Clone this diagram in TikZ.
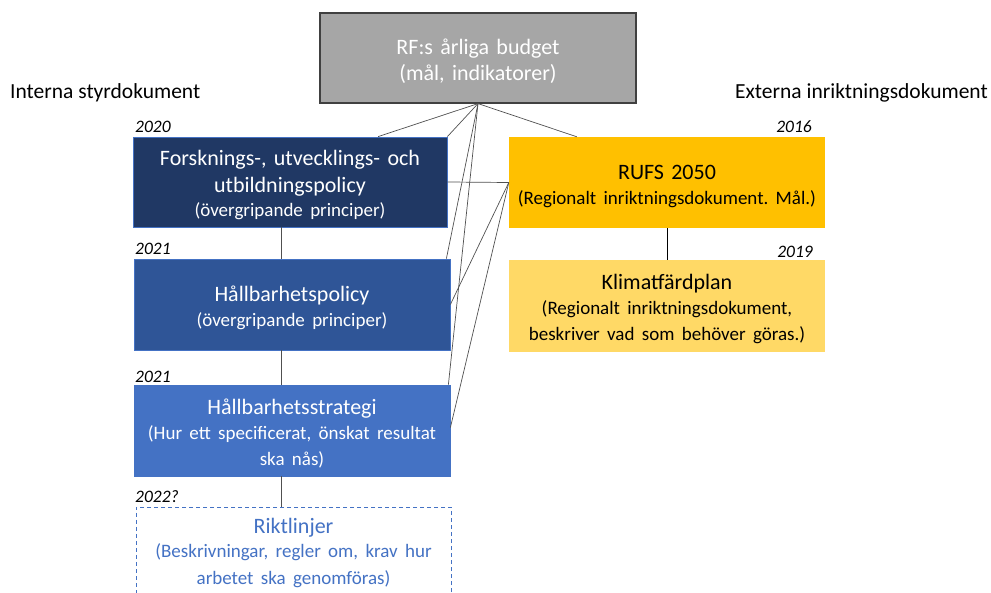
\documentclass[tikz,border=0pt]{standalone}
\usepackage{fontspec}
\setmainfont{Carlito}
\usetikzlibrary{calc}
\definecolor{topgray}{HTML}{A6A6A6}
\definecolor{navy}{HTML}{203864}
\definecolor{midblue}{HTML}{2F5597}
\definecolor{lightblue}{HTML}{4472C4}
\definecolor{gold}{HTML}{FFC000}
\definecolor{lightgold}{HTML}{FFD966}
\definecolor{conn}{HTML}{505050}
\newcommand{\bigtxt}{\fontsize{22}{26.5}\selectfont\frenchspacing}
\newcommand{\subtxt}{\fontsize{19}{23.5}\selectfont\frenchspacing}
\newcommand{\topfix}{\rule{0pt}{22pt}}
\tikzset{
  docbox/.style={rectangle, inner sep=0pt, align=center, text width=#1, font=\bigtxt},
  bluebox/.style={docbox=305pt, draw=lightblue, line width=0.8pt, text=white},
  yellowbox/.style={docbox=305pt, text=black},
  yearlbl/.style={font=\fontsize{17.5}{20}\selectfont\itshape, inner sep=0pt},
  headlbl/.style={font=\fontsize{21.5}{26}\selectfont, inner sep=0pt},
  connector/.style={draw=conn, line width=0.7pt},
}
\begin{document}
\begin{tikzpicture}[x=1pt,y=-1pt]
\useasboundingbox (0,0) rectangle (991,593);
% top box
\node[docbox=305pt, fill=topgray, draw=black!75, line width=1.2pt, text=white,
      minimum width=316pt, minimum height=90pt] (top) at (478,58)
  {\topfix RF:s årliga budget\\(mål, indikatorer)};
% headings
\node[headlbl, anchor=west] (intern) at (10,93) {Interna styrdokument};
\node[headlbl, anchor=east] (extern) at (988,93) {Externa inriktningsdokument};
% left boxes
\node[bluebox, fill=navy, minimum width=314pt, minimum height=90pt] (b1) at (290,182)
  {\topfix Forsknings-, utvecklings- och\\utbildningspolicy\\[-2pt]\subtxt(övergripande principer)};
\node[bluebox, fill=midblue, minimum width=316pt, minimum height=91pt] (b2) at (292,304.5)
  {\topfix Hållbarhetspolicy\\[-1pt]\subtxt(övergripande principer)};
\node[bluebox, fill=lightblue, minimum width=316pt, minimum height=91pt] (b3) at (292,430.5)
  {\topfix Hållbarhetsstrategi\\[1pt]\subtxt(Hur ett specificerat, önskat resultat\\ska nås)};
\node[draw=lightblue, dash pattern=on 4pt off 3pt, line width=1pt, fill=white, minimum width=315pt, minimum height=120pt, inner sep=0pt] (b4) at (293.5,567) {};
\node[docbox=310pt, text=lightblue, anchor=north] (b4t) at (293.5,518)
  {Riktlinjer\\[1pt]\subtxt(Beskrivningar, regler om, krav hur\\arbetet ska genomföras)};
% right boxes
\node[yellowbox, fill=gold, minimum width=316pt, minimum height=91pt] (rufs) at (667,182.5)
  {\topfix RUFS 2050\\[-1pt]\subtxt(Regionalt inriktningsdokument. Mål.)};
\node[yellowbox, fill=lightgold, minimum width=316pt, minimum height=92pt] (klim) at (667,306)
  {\topfix Klimatfärdplan\\[1pt]\subtxt(Regionalt inriktningsdokument,\\beskriver vad som behöver göras.)};
% years
\node[yearlbl, anchor=west] (y1) at (135,127) {2020};
\node[yearlbl, anchor=west] (y2) at (135,249) {2021};
\node[yearlbl, anchor=west] (y3) at (135,377) {2021};
\node[yearlbl, anchor=west] (y4) at (135,497) {2022?};
\node[yearlbl, anchor=east] (y5) at (812,127) {2016};
\node[yearlbl, anchor=east] (y6) at (813,252) {2019};
% connectors
\coordinate (hub) at (top.south);
\coordinate (b1top) at ($(b1.north west)!0.78!(b1.north east)$);
\coordinate (rufstop) at ($(rufs.north west)!0.215!(rufs.north east)$);
\coordinate (b2tr) at ($(b2.north east)+(-4,0)$);
\coordinate (b3tr) at ($(b3.north east)+(-2,0)$);
\coordinate (b3r) at ($(b3.east)+(0,-3)$);
\path[connector] (hub) -- (b1top);
\path[connector] (hub) -- (b1.north east);
\path[connector] (hub) -- (b2tr);
\path[connector] (hub) -- (b3tr);
\path[connector] (hub) -- (rufstop);
\path[connector] (rufs.west) -- (b1.east);
\path[connector] (rufs.west) -- (b2.east);
\path[connector] (rufs.west) -- (b3r);
\path[connector] (b1.south -| 281,0) -- (b2.north -| 281,0);
\path[connector] (b2.south -| 281,0) -- (b3.north -| 281,0);
\path[connector] (b3.south -| 281,0) -- (b4.north -| 281,0);
\path[connector, draw=black] (rufs.south) -- (klim.north);
\end{tikzpicture}
\end{document}
